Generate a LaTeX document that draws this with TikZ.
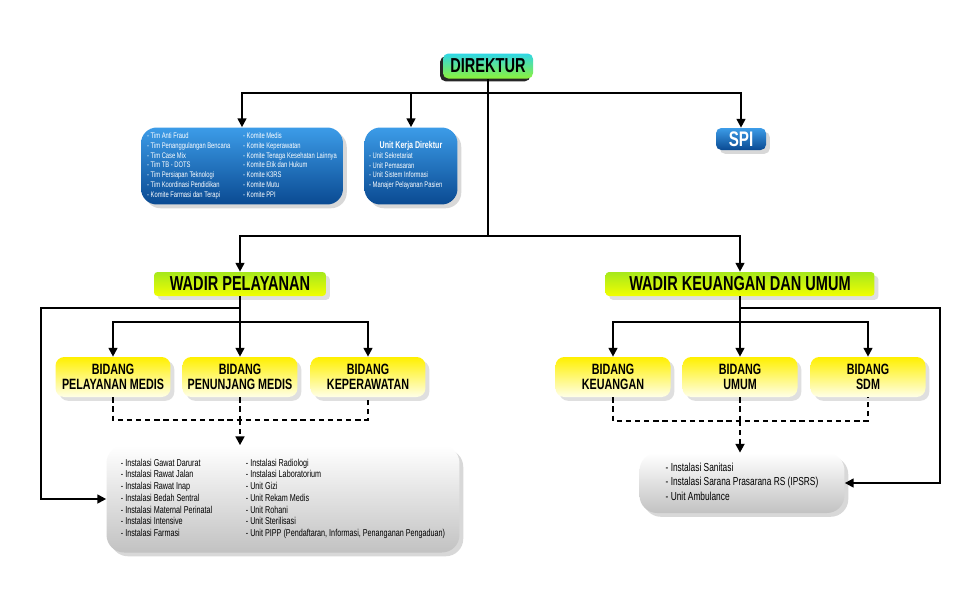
\documentclass[tikz,border=0pt]{standalone}
\usepackage{fontspec}
\newfontfamily\condfont[FakeStretch=0.72]{Liberation Sans}
\usetikzlibrary{arrows.meta,positioning,shadows}

\definecolor{dirTop}{HTML}{2FD6E6}
\definecolor{dirBot}{HTML}{8CF23A}
\definecolor{blueTop}{HTML}{3C9CE8}
\definecolor{blueBot}{HTML}{0A4A92}
\definecolor{limeTop}{HTML}{A6E81C}
\definecolor{limeBot}{HTML}{F2FF00}
\definecolor{bidTop}{HTML}{FFF000}
\definecolor{bidBot}{HTML}{FFFFE8}

\begin{document}
\begin{tikzpicture}[x=0.02cm, y=-0.02cm,
  dirbox/.style={rectangle, rounded corners=3pt, top color=dirTop, bottom color=dirBot,
    minimum width=1.8cm, minimum height=0.5cm, inner sep=0pt,
    font=\condfont\bfseries\fontsize{11.5}{12}\selectfont,
    drop shadow={shadow xshift=-1.6pt, shadow yshift=-1.6pt, opacity=1, fill=black!85}},
  bluebox/.style={rectangle, rounded corners=9pt, top color=blueTop, bottom color=blueBot,
    text=white, inner sep=0pt, drop shadow={opacity=.3}},
  wadir/.style={rectangle, rounded corners=2pt, top color=limeTop, bottom color=limeBot,
    minimum width=#1, minimum height=0.48cm, inner sep=0pt,
    font=\condfont\bfseries\fontsize{11.5}{12}\selectfont, drop shadow={opacity=.25}},
  bidang/.style={rectangle, rounded corners=5pt, top color=bidTop, bottom color=bidBot,
    minimum width=2.3cm, minimum height=0.8cm, inner sep=0pt, align=center,
    font=\condfont\bfseries\fontsize{8.5}{8.6}\selectfont, drop shadow={opacity=.25}},
  instbox/.style={rectangle, rounded corners=10pt, top color=white, bottom color=black!24,
    inner sep=0pt, font=\condfont\fontsize{5.7}{6.7}\selectfont, drop shadow={opacity=.3}},
  line/.style={line width=1.1pt},
  arr/.style={line, -{Triangle[length=5pt,width=5pt]}},
  dots/.style={line width=1.3pt, dash pattern=on 3pt off 2.2pt}
]
\useasboundingbox[fill=white] (0,0) rectangle (959,589);

% top level
\node[dirbox] (dir) at (488,66) {DIREKTUR};

\node[bluebox, minimum width=4.04cm, minimum height=1.54cm,
  font=\condfont\fontsize{4.6}{5.6}\selectfont] (tim) at (242,166) {%
  \begin{tabular}{@{}p{1.92cm}@{}l@{}}
  - Tim Anti Fraud & - Komite Medis\\
  - Tim Penanggulangan Bencana & - Komite Keperawatan\\
  - Tim Case Mix & - Komite Tenaga Kesehatan Lainnya\\
  - Tim TB - DOTS & - Komite Etik dan Hukum\\
  - Tim Persiapan Teknologi & - Komite K3RS\\
  - Tim Koordinasi Pendidikan & - Komite Mutu\\
  - Komite Farmasi dan Terapi & - Komite PPI
  \end{tabular}};

\node[bluebox, minimum width=1.86cm, minimum height=1.54cm,
  font=\condfont\fontsize{4.6}{5.6}\selectfont] (ukd) at (411,166) {%
  \begin{tabular}{@{}l@{}}
  \multicolumn{1}{c}{\fontsize{5.6}{8}\selectfont\bfseries Unit Kerja Direktur}\\
  - Unit Sekretariat\\
  - Unit Pemasaran\\
  - Unit Sistem Informasi\\
  - Manajer Pelayanan Pasien
  \end{tabular}};

\node[bluebox, rounded corners=3pt, minimum width=1cm, minimum height=0.44cm,
  font=\condfont\bfseries\fontsize{12}{12}\selectfont] (spi) at (741,139) {SPI};

\coordinate (topbus) at (488,93);
\coordinate (midbus) at (488,236);
\draw[line] (dir.south) -- (midbus);
\draw[arr] (topbus) -| (tim.north);
\draw[arr] (topbus) -| (ukd.north);
\draw[arr] (topbus) -| (spi.north);

% wadir
\node[wadir=3.44cm] (wpl) at (240,284) {WADIR PELAYANAN};
\node[wadir=5.38cm] (wku) at (740,284) {WADIR KEUANGAN DAN UMUM};
\draw[arr] (midbus) -| (wpl.north);
\draw[arr] (midbus) -| (wku.north);

% bidang pelayanan
\node[bidang] (bpm) at (113,377) {BIDANG\\PELAYANAN MEDIS};
\node[bidang] (bpn) at (240,377) {BIDANG\\PENUNJANG MEDIS};
\node[bidang] (bkp) at (368,377) {BIDANG\\KEPERAWATAN};

% bidang keuangan dan umum
\node[bidang] (bku) at (613,377) {BIDANG\\KEUANGAN};
\node[bidang] (bum) at (740,377) {BIDANG\\UMUM};
\node[bidang] (bsd) at (868,377) {BIDANG\\SDM};

% instalasi
\node[instbox, minimum width=7.06cm, minimum height=2.14cm] (instL) at (283,499) {%
  \begin{tabular}{@{}p{2.5cm}@{}l@{}}
  - Instalasi Gawat Darurat & - Instalasi Radiologi\\
  - Instalasi Rawat Jalan & - Instalasi Laboratorium\\
  - Instalasi Rawat Inap & - Unit Gizi\\
  - Instalasi Bedah Sentral & - Unit Rekam Medis\\
  - Instalasi Maternal Perinatal & - Unit Rohani\\
  - Instalasi Intensive & - Unit Sterilisasi\\
  - Instalasi Farmasi & - Unit PIPP (Pendaftaran, Informasi, Penanganan Pengaduan)
  \end{tabular}};

\node[instbox, minimum width=4.1cm, minimum height=1.2cm,
  font=\condfont\fontsize{6.6}{8.2}\selectfont] (instR) at (742,483) {%
  \begin{tabular}{@{}l@{}}
  - Instalasi Sanitasi\\
  - Instalasi Sarana Prasarana RS (IPSRS)\\
  - Unit Ambulance
  \end{tabular}\hspace{0.3cm}};

% wadir pelayanan connectors
\coordinate (wplout) at (240,308);
\coordinate (wplbus) at (240,322);
\coordinate (leftturn) at (41,308);
\draw[line] (wpl.south) -- (wplbus);
\draw[arr] (wplbus) -| (bpm.north);
\draw[arr] (wplbus) -- (bpn.north);
\draw[arr] (wplbus) -| (bkp.north);
\draw[arr] (wplout) -- (leftturn) |- (instL.west);

% wadir keuangan connectors
\coordinate (wkuout) at (740,308);
\coordinate (wkubus) at (740,322);
\coordinate (rightturn) at (940,308);
\draw[line] (wku.south) -- (wkubus);
\draw[arr] (wkubus) -| (bku.north);
\draw[arr] (wkubus) -- (bum.north);
\draw[arr] (wkubus) -| (bsd.north);
\draw[arr] (wkuout) -- (rightturn) |- (instR.east);

% dotted links
\coordinate (dotL) at (240,420);
\draw[dots] (bpm.south) |- (dotL) -| (bkp.south);
\draw[dots] (bpn.south) -- (dotL);
\draw[dots, -{Triangle[length=5pt,width=5pt]}] (dotL) -- (dotL |- instL.north);

\coordinate (dotR) at (740,421);
\draw[dots] (bku.south) |- (dotR) -| (bsd.south);
\draw[dots] (bum.south) -- (dotR);
\draw[dots, -{Triangle[length=5pt,width=5pt]}] (dotR) -- (dotR |- instR.north);
\end{tikzpicture}
\end{document}
